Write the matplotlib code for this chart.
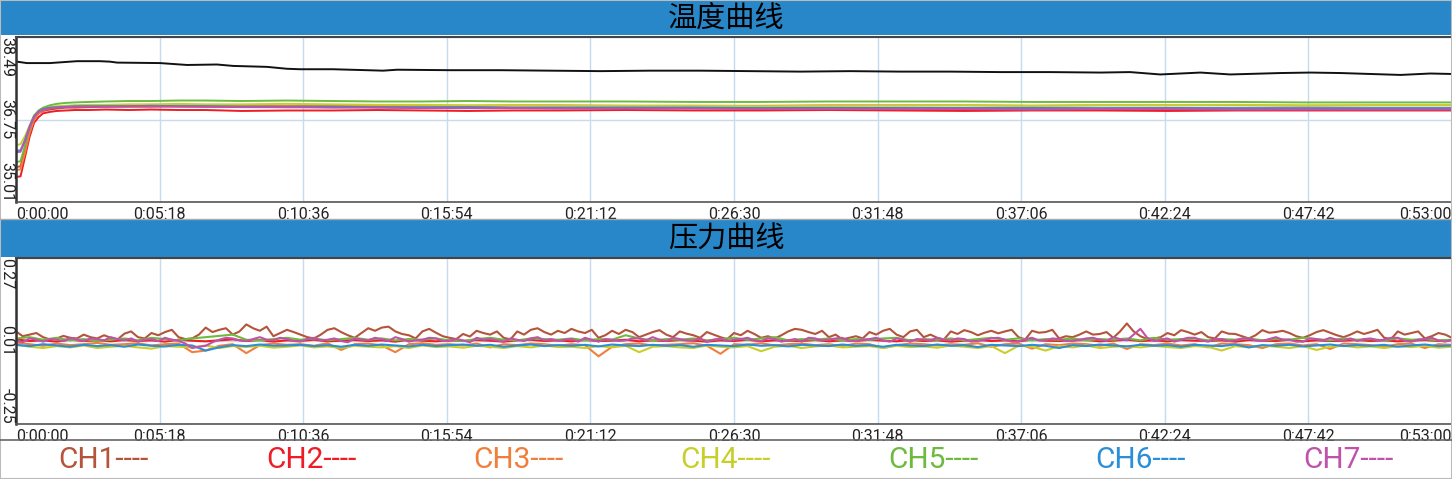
import numpy as np
import matplotlib.pyplot as plt
from matplotlib.lines import Line2D
from matplotlib.patches import Rectangle
from matplotlib.transforms import blended_transform_factory

W, H = 1452, 479

names = ['CH1', 'CH2', 'CH3', 'CH4', 'CH5', 'CH6', 'CH7']
colors = ['#B4543A', '#EE1C25', '#F07F3C', '#C8CF2A', '#6DBB3E', '#2A8FD8', '#C052A9']
bar_blue = '#2887C9'
grid_c = '#C5DBF0'

xtick_pos = [0, 318, 636, 954, 1272, 1590, 1908, 2226, 2544, 2862, 3180]
xtick_lab = ['0:00:00', '0:05:18', '0:10:36', '0:15:54', '0:21:12', '0:26:30',
             '0:31:48', '0:37:06', '0:42:24', '0:47:42', '0:53:00']

# temperature (seconds / degC)
t_temp = [0, 10, 20, 30, 40, 50, 60, 75, 90, 110, 130, 160, 200, 250, 300, 360, 420, 500, 600,
          700, 800, 900, 1000, 1100, 1200, 1350, 1500, 1650, 1800, 1950, 2100, 2250, 2400,
          2550, 2700, 2850, 3000, 3180]
temp_ch1 = [35.75, 35.76, 36.12, 36.50, 36.76, 36.88, 36.93, 36.96, 36.98, 37.00, 37.00, 37.01,
            37.02, 37.02, 37.02, 37.03, 37.02, 37.02, 37.01, 37.02, 37.01, 37.00, 37.01, 37.00,
            37.00, 37.00, 36.99, 36.99, 37.00, 36.99, 36.99, 36.99, 36.98, 36.99, 36.98, 36.98,
            36.98, 36.98]
temp_ch2 = [35.54, 35.55, 35.96, 36.38, 36.68, 36.80, 36.88, 36.91, 36.93, 36.94, 36.95, 36.95,
            36.96, 36.95, 36.96, 36.95, 36.95, 36.93, 36.94, 36.94, 36.95, 36.94, 36.93, 36.94,
            36.94, 36.95, 36.94, 36.94, 36.95, 36.94, 36.93, 36.94, 36.94, 36.93, 36.94, 36.94,
            36.94, 36.94]
temp_ch3 = [35.68, 35.70, 36.05, 36.46, 36.74, 36.88, 36.95, 36.99, 37.01, 37.03, 37.04, 37.04,
            37.05, 37.05, 37.06, 37.05, 37.05, 37.05, 37.04, 37.05, 37.05, 37.05, 37.04, 37.05,
            37.05, 37.04, 37.04, 37.04, 37.05, 37.05, 37.05, 37.04, 37.05, 37.05, 37.05, 37.04,
            37.05, 37.05]
temp_ch4 = [36.21, 36.23, 36.40, 36.62, 36.84, 36.93, 36.98, 37.01, 37.03, 37.04, 37.05, 37.06,
            37.06, 37.07, 37.07, 37.08, 37.07, 37.07, 37.08, 37.07, 37.06, 37.06, 37.05, 37.05,
            37.04, 37.04, 37.04, 37.03, 37.04, 37.04, 37.05, 37.04, 37.05, 37.05, 37.06, 37.05,
            37.05, 37.05]
temp_ch5 = [35.85, 35.87, 36.20, 36.56, 36.82, 36.94, 37.00, 37.05, 37.08, 37.10, 37.11, 37.12,
            37.13, 37.14, 37.14, 37.15, 37.15, 37.14, 37.15, 37.14, 37.13, 37.13, 37.14, 37.13,
            37.13, 37.13, 37.12, 37.12, 37.13, 37.13, 37.13, 37.12, 37.12, 37.12, 37.12, 37.11,
            37.11, 37.11]
temp_ch6 = [36.09, 36.10, 36.32, 36.60, 36.82, 36.92, 36.97, 37.00, 37.01, 37.02, 37.03, 37.03,
            37.03, 37.03, 37.04, 37.03, 37.03, 37.02, 37.02, 37.02, 37.01, 37.01, 37.01, 37.00,
            37.00, 37.00, 37.00, 36.99, 36.99, 36.99, 36.99, 36.99, 36.99, 36.99, 36.99, 36.99,
            36.99, 36.99]
temp_ch7 = [36.06, 36.07, 36.30, 36.58, 36.80, 36.91, 36.96, 36.99, 37.00, 37.01, 37.02, 37.02,
            37.02, 37.03, 37.03, 37.02, 37.02, 37.01, 37.01, 37.00, 37.00, 36.99, 36.99, 36.99,
            36.98, 36.98, 36.98, 36.97, 36.97, 36.97, 36.97, 36.96, 36.97, 36.97, 36.96, 36.96,
            36.96, 36.96]

t_ref = [2, 24, 75, 135, 186, 208, 224, 319, 379, 445, 481, 556, 600, 629, 702, 777, 813, 844,
         961, 1072, 1183, 1294, 1404, 1515, 1626, 1737, 1847, 1958, 2069, 2180, 2290, 2401,
         2467, 2534, 2623, 2689, 2800, 2866, 2933, 3066, 3132, 3180]
temp_ref = [37.97, 37.94, 37.94, 37.98, 37.98, 37.97, 37.95, 37.94, 37.90, 37.91, 37.88, 37.86,
            37.82, 37.81, 37.81, 37.79, 37.78, 37.80, 37.79, 37.79, 37.78, 37.77, 37.78, 37.78,
            37.77, 37.76, 37.77, 37.76, 37.76, 37.75, 37.75, 37.74, 37.75, 37.70, 37.74, 37.70,
            37.73, 37.74, 37.73, 37.69, 37.72, 37.71]

# pressure, in thousandths; CH1 and CH7 sampled every 15 s, the rest every 30 s
t_fine = np.arange(0, 3181, 15)
t_press = np.arange(0, 3181, 30)
press_ch1 = [40, 25, 30, 35, 22, 15, 18, 26, 20, 18, 30, 22, 18, 28, 20, 15, 33, 40, 22, 18,
             35, 28, 38, 45, 22, 16, 18, 30, 52, 38, 45, 50, 30, 40, 62, 50, 42, 55, 25, 35,
             45, 38, 30, 22, 18, 30, 45, 50, 38, 28, 20, 35, 50, 42, 52, 55, 40, 32, 28, 18,
             40, 48, 36, 25, 20, 16, 32, 24, 42, 35, 30, 40, 20, 15, 40, 30, 45, 50, 38, 30,
             42, 35, 48, 40, 35, 45, 20, 28, 42, 32, 45, 38, 22, 30, 38, 44, 30, 22, 40, 33,
             28, 20, 38, 30, 22, 16, 35, 28, 42, 32, 20, 25, 18, 28, 40, 48, 45, 38, 32, 42,
             22, 30, 15, 20, 25, 18, 38, 30, 42, 48, 30, 22, 40, 45, 22, 30, 20, 15, 40, 32,
             44, 38, 28, 36, 42, 34, 40, 45, 22, 15, 42, 36, 38, 45, 18, 25, 22, 30, 40, 30,
             32, 38, 20, 40, 65, 40, 25, 16, 18, 22, 35, 28, 44, 38, 30, 38, 22, 18, 40, 33,
             32, 25, 18, 28, 44, 36, 38, 42, 35, 25, 20, 28, 38, 44, 36, 28, 22, 30, 40, 32,
             38, 45, 20, 16, 40, 30, 35, 40, 18, 25, 35, 30, 20]
press_ch2 = [15, 10, 12, 8, 14, 10, 12, 9, 13, 10, 12, 8, 14, 11, 9, 12, 15, 10, 13, 8,
             12, 10, 14, 9, 11, 13, 10, 12, 8, 14, 11, 9, 12, 10, 13, 11, 8, 12, 14, 10,
             12, 9, 13, 10, 11, 14, 9, 12, 10, 13, 11, 8, 12, 10, 14, 9, 12, 11, 10, 13,
             9, 12, 10, 14, 11, 9, 13, 10, 12, 8, 11, 13, 10, 12, 9, 14, 11, 10, 12, 13,
             9, 11, 14, 10, 12, 9, 13, 11, 10, 12, 8, 13, 11, 10, 14, 9, 12, 10, 11, 13,
             10, 12, 9, 11, 13, 10, 12]
press_ch3 = [5, 0, -5, 2, -3, 0, 4, -2, 0, 3, -4, 0, 2, -25, -20, -5, 0, -28, -3, 2,
             -2, 0, -5, 3, -18, 0, 2, -4, -25, 0, 3, -2, 0, -4, 2, -10, 0, -3, 2, 0,
             -5, 0, -3, -38, -8, 0, 2, -4, -2, 0, 3, -5, -30, 0, -2, 3, -4, 0, 2, -3,
             0, -6, 2, 0, -12, -3, 2, 0, -4, 0, -2, 3, -8, 0, 2, -14, 0, -3, 2, 0,
             -5, 2, -15, 0, -3, 2, -4, 0, -10, 2, 0, -3, -12, 0, 2, -4, 0, -15, 2, 0,
             -3, -8, 0, 2, -12, 0, -2]
press_ch4 = [-2, -8, -12, -6, -10, -4, -12, -8, -5, -10, -14, -6, -8, -10, -4, -12, -6, -9, -5, -11,
             -8, -4, -10, -7, -12, -5, -8, -10, -6, -12, -4, -9, -7, -11, -5, -8, -12, -6, -10, -4,
             -9, -8, -12, -6, -10, -5, -25, -8, -6, -10, -12, -4, -8, -10, -6, -22, -8, -5, -12, -7,
             -4, -10, -8, -6, -12, -5, -9, -7, -11, -4, -8, -12, -6, -28, -5, -8, -20, -6, -10, -4,
             -12, -8, -6, -10, -5, -9, -12, -6, -8, -20, -6, -10, -4, -8, -12, -6, -18, -8, -5, -10,
             -7, -12, -6, -9, -5, -11, -8]
press_ch5 = [18, 22, 14, 20, 12, 16, 10, 14, 18, 12, 20, 16, 12, 18, 22, 26, 30, 14, 12, 16,
             20, 14, 18, 12, 16, 20, 14, 18, 12, 16, 14, 18, 12, 10, 16, 20, 14, 12, 18, 16,
             14, 18, 12, 16, 14, 28, 18, 12, 16, 14, 18, 12, 16, 20, 14, 18, 22, 12, 16, 14,
             18, 12, 16, 14, 18, 20, 12, 16, 14, 18, 12, 16, 20, 14, 18, 12, 16, 14, 18, 12,
             16, 14, 18, 12, 20, 14, 16, 18, 12, 16, 14, 18, 12, 16, 14, 20, 16, 12, 18, 14,
             16, 12, 18, 14, 16, 12, 14]
press_ch6 = [-2, -6, 0, -4, -8, -2, -6, -3, -8, -1, -5, -7, -2, -4, -20, -10, -3, -6, -1, -5,
             -4, -2, -6, -3, -8, -2, -5, -1, -4, -7, -2, -6, -3, -1, -5, -2, -8, -4, -1, -6,
             -3, -5, -2, -7, -1, -4, -6, -2, -5, -3, -8, -2, -4, -6, -1, -5, -3, -7, -2, -4,
             -6, -1, -5, -3, -8, -2, -4, -6, -1, -5, -3, -9, -2, -4, -6, -2, -5, -12, -3, -6,
             -1, -4, -7, -2, -5, -3, -8, -2, -4, -6, -1, -10, -3, -5, -2, -7, -4, -1, -6, -3,
             -5, -2, -8, -4, -1, -6, -4]
press_ch7 = [12, 6, 18, 14, 8, 16, 14, 10, 20, 15, 10, 18, 16, 12, 22, 16, 12, 18, 8, 14,
             16, 10, 20, 14, 10, 2, -12, -8, -5, 6, 14, 20, 18, 12, 10, 16, 22, 14, 12, 20,
             16, 10, 8, 16, 20, 12, 14, 18, 10, 6, 18, 14, 12, 20, 16, 10, 22, 16, 8, 12,
             14, 20, 18, 10, 10, 16, 12, 6, 20, 14, 16, 12, 8, 18, 14, 10, 18, 22, 12, 16,
             10, 14, 16, 8, 20, 14, 8, 16, 14, 10, 12, 18, 18, 12, 22, 14, 10, 20, 16, 12,
             12, 18, 8, 14, 18, 10, 14, 16, 20, 12, 10, 18, 16, 8, 12, 16, 8, 20, 18, 12,
             14, 18, 20, 10, 10, 14, 16, 20, 12, 8, 18, 14, 8, 16, 14, 12, 20, 14, 12, 18,
             16, 8, 10, 14, 18, 20, 14, 8, 8, 16, 20, 12, 12, 18, 16, 10, 10, 14, 18, 20,
             14, 10, 22, 16, 12, 30, 48, 20, 10, 14, 18, 8, 14, 20, 20, 12, 8, 16, 16, 10,
             12, 18, 18, 12, 10, 16, 22, 14, 14, 8, 8, 18, 16, 12, 20, 14, 12, 18, 10, 16,
             18, 12, 14, 20, 20, 10, 8, 14, 16, 20, 12, 8, 14]

temps = [temp_ch1, temp_ch2, temp_ch3, temp_ch4, temp_ch5, temp_ch6, temp_ch7]
press = [press_ch1, press_ch2, press_ch3, press_ch4, press_ch5, press_ch6, press_ch7]
press_t = [t_fine, t_press, t_press, t_press, t_press, t_press, t_fine]

plt.rcParams['font.family'] = ['Roboto', 'DejaVu Sans']


def box(x0, y0, x1, y1):
    return [x0 / W, 1 - y1 / H, (x1 - x0) / W, (y1 - y0) / H]


fig = plt.figure(figsize=(W / 100, H / 100), dpi=100)
fig.patch.set_facecolor('white')


def title_bar(y0, y1, text):
    bar = fig.add_axes(box(0, y0, W, y1))
    bar.set_facecolor(bar_blue)
    bar.set_xticks([])
    bar.set_yticks([])
    for s in bar.spines.values():
        s.set_visible(False)
    bar.text(0.5, 0.47, text, ha='center', va='center', fontsize=21, color='black',
             family=['Noto Sans CJK SC', 'DejaVu Sans'], transform=bar.transAxes)


def setup(ax, ylo, ymid, yhi, ylabels):
    ax.set_xlim(0, 3180)
    ax.set_ylim(ylo, yhi)
    ax.set_xticks(xtick_pos)
    ax.set_yticks([ylo, ymid, yhi])
    ax.grid(True, color=grid_c, lw=1)
    ax.set_axisbelow(True)
    ax.tick_params(length=0, labelbottom=False, labelleft=False)
    ax.spines['right'].set_visible(False)
    ax.spines['left'].set_color('#333333')
    ax.spines['left'].set_linewidth(1.8)
    ax.spines['top'].set_color('#444444')
    ax.spines['top'].set_linewidth(1.5)
    ax.spines['bottom'].set_color('#555555')
    ax.spines['bottom'].set_linewidth(1.2)
    tx = blended_transform_factory(ax.transData, ax.transAxes)
    for i, (p, lab) in enumerate(zip(xtick_pos, xtick_lab)):
        ha = 'left' if i == 0 else ('right' if i == len(xtick_pos) - 1 else 'center')
        ax.text(p, -0.03, lab, transform=tx, ha=ha, va='top', fontsize=11.5, color='#222222')
    ty = blended_transform_factory(ax.transAxes, ax.transData)
    for v, lab, va in zip([ylo, ymid, yhi], ylabels, ['bottom', 'center', 'top']):
        ax.text(-0.0012, v, lab, transform=ty, ha='right', va=va, rotation=-90,
                fontsize=11.5, color='#222222')


title_bar(0, 35, '温度曲线')
ax1 = fig.add_axes(box(16, 37, W, 202))
setup(ax1, 35.01, 36.75, 38.49, ['35.01', '36.75', '38.49'])
ax1.plot(t_ref, temp_ref, color='#111111', lw=1.4)
for vals, c in zip(temps, colors):
    ax1.plot(t_temp, vals, color=c, lw=1.4)

title_bar(220, 257, '压力曲线')
ax2 = fig.add_axes(box(16, 258, W, 424))
setup(ax2, -0.25, 0.01, 0.27, ['-0.25', '0.01', '0.27'])
for tt, vals, c in zip(press_t, press, colors):
    ax2.plot(tt, np.array(vals) / 1000, color=c, lw=1.5)

# separators and frame
fig.add_artist(Line2D([0, 1], [1 - 219 / H] * 2, color='#AAAAAA', lw=1))
fig.add_artist(Line2D([0, 1], [1 - 440 / H] * 2, color='#666666', lw=1.2))
fig.add_artist(Rectangle((0, 0), 1, 1, transform=fig.transFigure, fill=False,
                         edgecolor='#BBBBBB', lw=1.5))

# legend row
for i, (n, c) in enumerate(zip(names, colors)):
    fig.text((i + 0.5) / 7, 1 - 460 / H, n + '----', ha='center', va='center',
             fontsize=21.5, color=c)

fig.savefig('out.png', dpi=100)
